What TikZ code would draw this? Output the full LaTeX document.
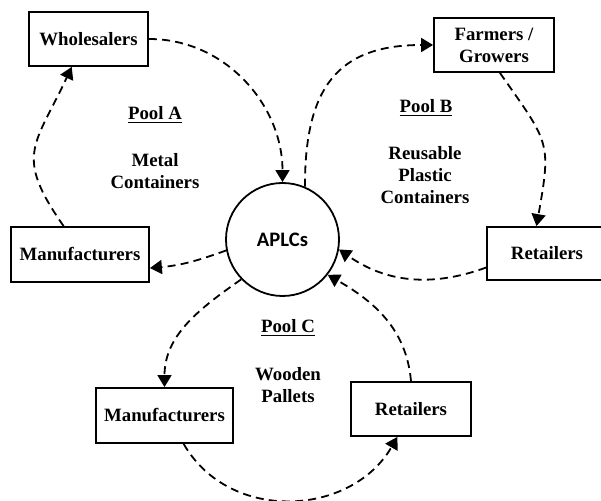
\documentclass[tikz,border=0pt]{standalone}
\usepackage{fontspec}
\setmainfont{Liberation Serif}
\newfontfamily\aplcfont{Carlito}
\usetikzlibrary{arrows.meta}

\begin{document}
\begin{tikzpicture}[x=0.5pt, y=-0.5pt, line width=0.9pt,
    box/.style={draw, rectangle, inner sep=0pt, align=center,
        font=\bfseries\fontsize{9.4}{11}\selectfont},
    lbl/.style={align=center, inner sep=0pt,
        font=\bfseries\fontsize{9.4}{11}\selectfont},
    flow/.style={dash pattern=on 4pt off 2.6pt,
        -{Triangle[length=6pt,width=7pt]}}]
    % 1. Page frame
    \useasboundingbox (0,0) rectangle (601,501);
    \clip (0,0) rectangle (601,501);

    % 2. Hub in the middle
    \node[draw, circle, minimum size=56.5pt, inner sep=0pt,
        font=\aplcfont\bfseries\fontsize{10.3}{11}\selectfont] (aplc) at (282.5,239.5) {APLCs};

    % 3. Boxes of the three pools
    \node[box, minimum width=59.5pt, minimum height=27pt] (whole) at (88.5,39) {Wholesalers};
    \node[box, minimum width=69pt, minimum height=27.5pt] (manuA) at (80,254.5) {Manufacturers};
    \node[box, minimum width=60pt, minimum height=27pt] (farm) at (494,45) {Farmers /\\Growers};
    \node[box, minimum width=60pt, minimum height=26.5pt] (retB) at (547,253.5) {Retailers};
    \node[box, minimum width=68.5pt, minimum height=27.5pt] (manuC) at (164.5,415.5) {Manufacturers};
    \node[box, minimum width=60pt, minimum height=27pt] (retC) at (411,409) {Retailers};

    % 4. Pool titles and goods
    \node[lbl] (poolA) at (155,115) {\underline{Pool A}};
    \node[lbl] (goodsA) at (155,171) {Metal\\Containers};
    \node[lbl] (poolB) at (426,108) {\underline{Pool B}};
    \node[lbl] (goodsB) at (425,175) {Reusable\\Plastic\\Containers};
    \node[lbl] (poolC) at (288,328) {\underline{Pool C}};
    \node[lbl] (goodsC) at (288,385) {Wooden\\Pallets};

    % 5. Pool A loop
    \draw[flow] (whole.east) to[out=0, in=90] (aplc.north);
    \draw[flow] (aplc.191) to[out=200, in=5] (manuA.-11);
    \draw[flow] (manuA.120) to[out=125, in=245, looseness=1.4] (whole.239);

    % 6. Pool B loop
    \draw[flow] (aplc.67) to[out=90, in=180, looseness=1.3] (farm.west);
    \draw[flow] (farm.-78) to[out=-55, in=80, looseness=1.4] (retB.111);
    \draw[flow] (retB.193) to[out=200, in=-35] (aplc.-10);

    % 7. Pool C loop
    \draw[flow] (aplc.224) to[out=215, in=90] (manuC.north);
    \draw[flow] (manuC.-56) to[out=-60, in=-120, looseness=1.1] (retC.-116);
    \draw[flow] (retC.north) to[out=95, in=-30] (aplc.-38);
\end{tikzpicture}
\end{document}
